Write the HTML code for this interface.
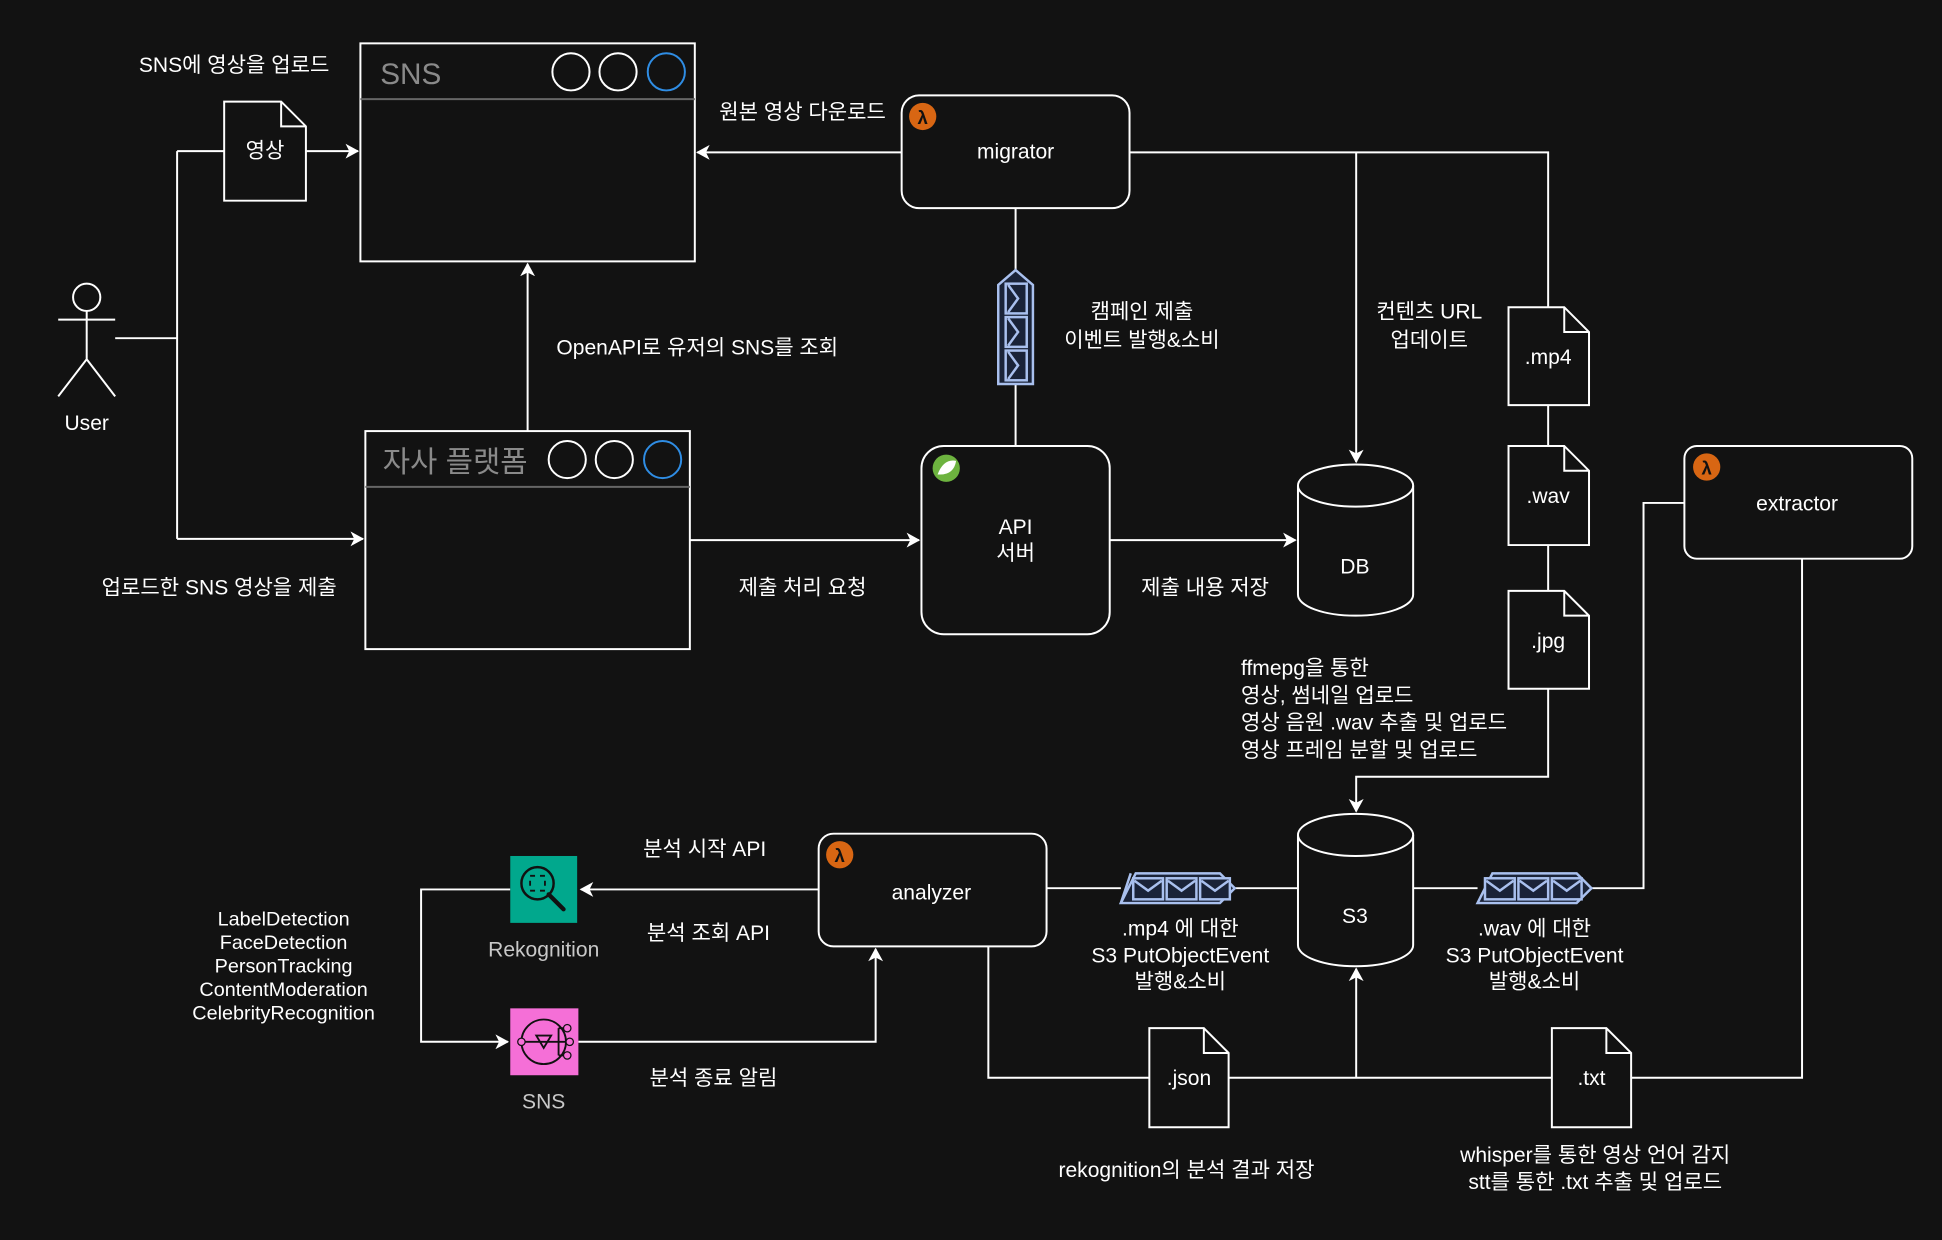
<!DOCTYPE html>
<html><head><meta charset="utf-8"><style>
html,body{margin:0;padding:0;background:#121212;}
svg{display:block;}
text{font-family:"Liberation Sans","Noto Sans CJK KR",sans-serif;fill:#fff;font-size:17px;text-anchor:middle;}
</style></head><body>
<svg width="1942" height="1240" viewBox="0 0 1568 1001" preserveAspectRatio="none" xmlns="http://www.w3.org/2000/svg">
<defs>
<marker id="a" markerWidth="12" markerHeight="12" refX="10" refY="6" orient="auto" markerUnits="userSpaceOnUse">
<path d="M0,0 L11,6 L0,12 L3,6 Z" fill="#fff"/></marker>
<g id="lam"><circle r="11" fill="#d86613"/><text y="6" style="font-size:15px;font-weight:bold;fill:#111">λ</text></g>
<g id="mail"><rect x="0" y="0" width="24" height="17" fill="#1a2338" stroke="#a9c0ee" stroke-width="2"/><path d="M1,2 L12,10 L23,2" fill="none" stroke="#a9c0ee" stroke-width="2"/></g>
<g id="mailv"><rect x="0" y="0" width="17" height="24" fill="#1a2338" stroke="#a9c0ee" stroke-width="2"/><path d="M2,1 L10,12 L2,23" fill="none" stroke="#a9c0ee" stroke-width="2"/></g>
</defs>
<rect width="1568" height="1001" fill="#121212"/>
<g fill="none" stroke="#fff" stroke-width="1.6">
<!-- user -->
<circle cx="70" cy="240" r="11"/>
<path d="M70,251 V290 M47,258 H93 M70,290 L47,320 M70,290 L93,320"/>
<path d="M93,273 H143 M143,122 V435 M143,122 H181"/>
<path d="M247,122 H289" marker-end="url(#a)"/>
<path d="M143,435 H293" marker-end="url(#a)"/>
<!-- SNS window -->
<rect x="291" y="35" width="270" height="176"/>
<path d="M291,80 H561" stroke="#666"/>
<circle cx="461" cy="58" r="15"/><circle cx="499" cy="58" r="15"/><circle cx="538" cy="58" r="15" stroke="#2f8de4"/>
<!-- doc 영상 -->
<path d="M181,82 H227 L247,102 V162 H181 Z M227,82 V102 H247"/>
<!-- platform window -->
<rect x="295" y="348" width="262" height="176"/>
<path d="M295,393 H557" stroke="#666"/>
<circle cx="458" cy="371" r="15"/><circle cx="496" cy="371" r="15"/><circle cx="535" cy="371" r="15" stroke="#2f8de4"/>
<path d="M426,348 V213" marker-end="url(#a)"/>
<!-- migrator -->
<rect x="728" y="77" width="184" height="91" rx="14"/>
<path d="M728,123 H563" marker-end="url(#a)"/>
<path d="M820,168 V218 M820,310 V360"/>
<!-- API -->
<rect x="744" y="360" width="152" height="152" rx="18"/>
<path d="M557,436 H742" marker-end="url(#a)"/>
<path d="M896,436 H1046" marker-end="url(#a)"/>
<!-- DB -->
<path d="M1048,392 V480 A46.5,17 0 0 0 1141,480 V392"/>
<ellipse cx="1094.5" cy="392" rx="46.5" ry="17"/>
<path d="M912,123 H1250 V248"/>
<path d="M1095,123 V373" marker-end="url(#a)"/>
<!-- docs -->
<path d="M1218,248 H1263 L1283,268 V327 H1218 Z M1263,248 V268 H1283"/>
<path d="M1250,327 V360"/>
<path d="M1218,360 H1263 L1283,380 V440 H1218 Z M1263,360 V380 H1283"/>
<path d="M1250,440 V477"/>
<path d="M1218,477 H1263 L1283,497 V556 H1218 Z M1263,477 V497 H1283"/>
<path d="M1250,556 V627 H1095 V655" marker-end="url(#a)"/>
<!-- S3 -->
<path d="M1048,674 V763 A46.5,17 0 0 0 1141,763 V674"/>
<ellipse cx="1094.5" cy="674" rx="46.5" ry="17"/>
<!-- extractor -->
<rect x="1360" y="360" width="184" height="91" rx="10"/>
<path d="M1360,406 H1327 V717 H1285 M1193,717 H1141"/>
<path d="M1048,717 H997 M905,717 H845"/>
<!-- analyzer -->
<rect x="661" y="673" width="184" height="91" rx="12"/>
<path d="M661,718 H469" marker-end="url(#a)"/>
<path d="M412,718 H340 V841 H410" marker-end="url(#a)"/>
<path d="M467,841 H707 V766" marker-end="url(#a)"/>
<path d="M798,764 V870 H928 M992,870 H1253"/>
<path d="M1095,870 V782" marker-end="url(#a)"/>
<path d="M1317,870 H1455 V451"/>
<path d="M928,830 H972 L992,850 V910 H928 Z M972,830 V850 H992"/>
<path d="M1253,830 H1297 L1317,850 V910 H1253 Z M1297,830 V850 H1317"/>
</g>
<!-- SQS vertical -->
<path d="M806,230 L820,218 L834,230 V310 H806 Z" fill="#1a2338" stroke="#a9c0ee" stroke-width="2"/>
<use href="#mailv" x="812" y="229"/><use href="#mailv" x="812" y="256"/><use href="#mailv" x="812" y="283"/>
<!-- SQS horizontal -->
<path d="M917,705 H985 L997,717 L985,729 H905 Z" fill="#1a2338" stroke="#a9c0ee" stroke-width="2"/>
<path d="M905,729 L913,705" stroke="#a9c0ee" stroke-width="2" fill="none"/>
<use href="#mail" x="915" y="709"/><use href="#mail" x="942" y="709"/><use href="#mail" x="969" y="709"/>
<path d="M1205,705 H1273 L1285,717 L1273,729 H1193 L1199,717 Z" fill="#1a2338" stroke="#a9c0ee" stroke-width="2"/>
<use href="#mail" x="1199" y="709"/><use href="#mail" x="1226" y="709"/><use href="#mail" x="1253" y="709"/>
<!-- lambda icons -->
<use href="#lam" x="745" y="94"/><use href="#lam" x="1378" y="377"/><use href="#lam" x="678" y="690"/>
<!-- spring -->
<circle cx="764" cy="378" r="11" fill="#6db33f"/>
<path d="M757,383 Q762,370 772,372 Q770,384 757,383" fill="#fff"/>
<!-- Rekognition -->
<rect x="412" y="691" width="54" height="54" fill="#01a88d"/>
<circle cx="434" cy="713" r="13" fill="none" stroke="#111" stroke-width="2"/>
<path d="M443,722 L455,734" stroke="#111" stroke-width="3.5" stroke-linecap="round"/>
<rect x="428" y="707" width="12" height="12" fill="none" stroke="#111" stroke-width="1.5" stroke-dasharray="4 4"/>
<!-- SNS icon -->
<rect x="412" y="814" width="55" height="54" fill="#f56fd7"/>
<circle cx="439" cy="841" r="18" fill="none" stroke="#111" stroke-width="1.5"/>
<path d="M423,841 H460 M451,830 V852 M451,830 H456 M451,852 H456 M433,836 H445 L439,846 Z" fill="none" stroke="#111" stroke-width="1.5"/>
<circle cx="458" cy="830" r="3" fill="#f56fd7" stroke="#111"/><circle cx="460" cy="841" r="3" fill="#f56fd7" stroke="#111"/><circle cx="458" cy="852" r="3" fill="#f56fd7" stroke="#111"/><circle cx="421" cy="841" r="3" fill="#f56fd7" stroke="#111"/>
<!-- texts -->
<text x="307" y="68" style="text-anchor:start;font-size:24px;fill:#8a8a8a">SNS</text>
<text x="309" y="381" style="text-anchor:start;font-size:24px;fill:#8a8a8a">자사 플랫폼</text>
<text x="189" y="58">SNS에 영상을 업로드</text>
<text x="214" y="127">영상</text>
<text x="70" y="347">User</text>
<text x="177" y="480">업로드한 SNS 영상을 제출</text>
<text x="563" y="286">OpenAPI로 유저의 SNS를 조회</text>
<text x="648" y="96">원본 영상 다운로드</text>
<text x="820" y="128">migrator</text>
<text x="922" y="257">캠페인 제출</text>
<text x="922" y="280">이벤트 발행&amp;소비</text>
<text x="1154" y="257">컨텐츠 URL</text>
<text x="1154" y="280">업데이트</text>
<text x="820" y="431">API</text>
<text x="820" y="452">서버</text>
<text x="648" y="480">제출 처리 요청</text>
<text x="973" y="480">제출 내용 저장</text>
<text x="1094" y="463">DB</text>
<text x="1250" y="294">.mp4</text>
<text x="1250" y="406">.wav</text>
<text x="1250" y="523">.jpg</text>
<g style="text-anchor:start">
<text x="1002" y="545" style="text-anchor:start">ffmepg을 통한</text>
<text x="1002" y="567" style="text-anchor:start">영상, 썸네일 업로드</text>
<text x="1002" y="589" style="text-anchor:start">영상 음원 .wav 추출 및 업로드</text>
<text x="1002" y="611" style="text-anchor:start">영상 프레임 분할 및 업로드</text>
</g>
<text x="1451" y="412">extractor</text>
<text x="1094" y="745">S3</text>
<text x="752" y="726">analyzer</text>
<text x="953" y="755">.mp4 에 대한</text>
<text x="953" y="777">S3 PutObjectEvent</text>
<text x="953" y="798">발행&amp;소비</text>
<text x="1239" y="755">.wav 에 대한</text>
<text x="1239" y="777">S3 PutObjectEvent</text>
<text x="1239" y="798">발행&amp;소비</text>
<text x="569" y="691">분석 시작 API</text>
<text x="572" y="759">분석 조회 API</text>
<text x="576" y="876">분석 종료 알림</text>
<text x="439" y="772" style="fill:#c8c8c8">Rekognition</text>
<text x="439" y="895" style="fill:#c8c8c8">SNS</text>
<g style="font-size:16px">
<text x="229" y="747" style="font-size:16px">LabelDetection</text>
<text x="229" y="766" style="font-size:16px">FaceDetection</text>
<text x="229" y="785" style="font-size:16px">PersonTracking</text>
<text x="229" y="804" style="font-size:16px">ContentModeration</text>
<text x="229" y="823" style="font-size:16px">CelebrityRecognition</text>
</g>
<text x="960" y="876">.json</text>
<text x="1285" y="876">.txt</text>
<text x="958" y="950">rekognition의 분석 결과 저장</text>
<text x="1288" y="938">whisper를 통한 영상 언어 감지</text>
<text x="1288" y="960">stt를 통한 .txt 추출 및 업로드</text>
</svg>
</body></html>
